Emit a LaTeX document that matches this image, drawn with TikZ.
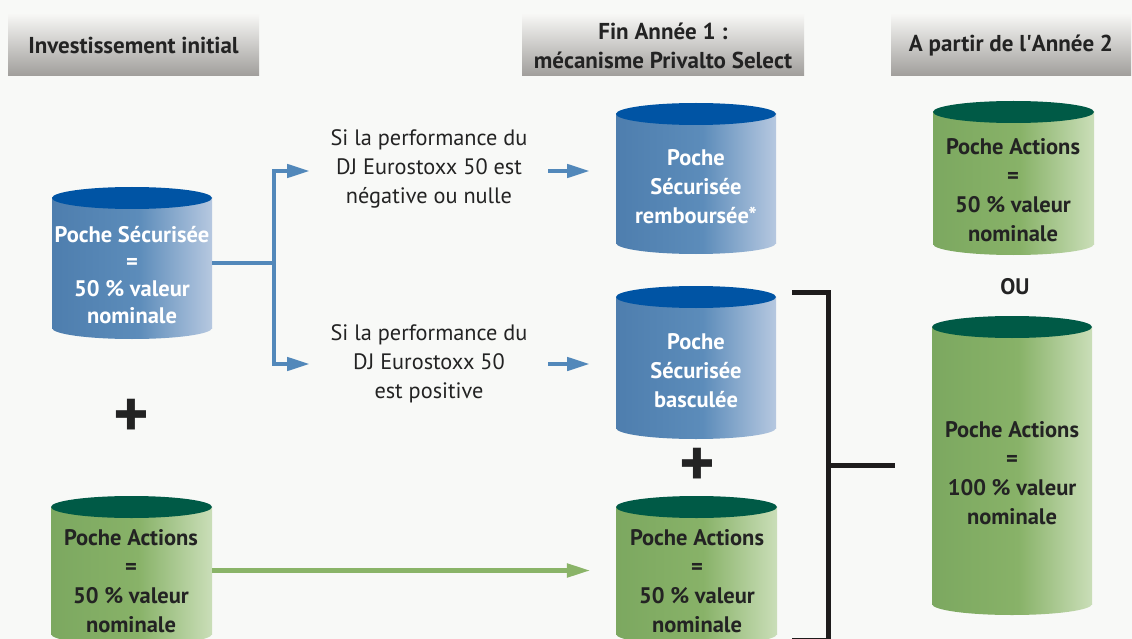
\documentclass[tikz,border=0pt]{standalone}
\usepackage{fontspec}
\setmainfont{PT Sans}
\usetikzlibrary{arrows.meta,calc}
\definecolor{bgc}{RGB}{248,249,247}
\definecolor{bL}{RGB}{78,126,174}
\definecolor{bM}{RGB}{92,140,186}
\definecolor{bR}{RGB}{182,200,224}
\definecolor{bTop}{RGB}{0,84,164}
\definecolor{gL}{RGB}{124,168,96}
\definecolor{gM}{RGB}{136,178,104}
\definecolor{gR}{RGB}{202,222,184}
\definecolor{gTop}{RGB}{0,90,70}
\definecolor{hTop}{RGB}{246,246,244}
\definecolor{hBot}{RGB}{160,158,155}
\definecolor{txt}{RGB}{35,35,35}
\definecolor{bArr}{RGB}{82,136,186}
\definecolor{gArr}{RGB}{138,180,104}
\definecolor{bkc}{RGB}{30,28,28}
\pgfdeclarehorizontalshading{blueshade}{100bp}{color(0bp)=(bL); color(25bp)=(bL); color(52bp)=(bM); color(75bp)=(bR); color(100bp)=(bR)}
\pgfdeclarehorizontalshading{greenshade}{100bp}{color(0bp)=(gL); color(25bp)=(gL); color(52bp)=(gM); color(75bp)=(gR); color(100bp)=(gR)}
\newcommand{\mycyl}[7]{%
  \shade[shading=#6] (#2,#4) rectangle (#3,#5);
  \shade[shading=#6] ({(#2+#3)/2},#5) ellipse[x radius={(#3-#2)/2}, y radius=11];
  \fill[#7] ({(#2+#3)/2},#4) ellipse[x radius={(#3-#2)/2}, y radius=11];
  \node[inner sep=0pt, minimum width={(#3-#2)*1pt}, minimum height={(#5-#4)*1pt}] (#1) at ({(#2+#3)/2},{(#4+#5)/2}) {};
}
\tikzset{
  hdr/.style={top color=hTop, bottom color=hBot, text=txt, inner sep=0pt, minimum height=61pt,
    font=\bfseries\fontsize{23}{29}\selectfont, align=center},
  cyltext/.style={font=\bfseries\fontsize{22.5}{29}\selectfont, align=center, inner sep=0pt},
  bluetext/.style={cyltext, text=white},
  greentext/.style={cyltext, text=txt},
  cond/.style={font=\fontsize{22.3}{29}\selectfont, align=center, text=txt, inner sep=0pt},
  bline/.style={draw=bArr, line width=4.5pt},
  barrow/.style={bline, -{Triangle[length=23pt,width=13pt]}},
  garrow/.style={draw=gArr, line width=5pt, -{Triangle[length=24pt,width=13pt]}},
  bk/.style={draw=bkc, line width=5pt},
  plus/.style={font=\bfseries\fontsize{68}{68}\selectfont, text=txt, inner sep=0pt},
}
\begin{document}
\begin{tikzpicture}[x=1pt,y=-1pt]
\clip (0,0) rectangle (1132,639);
\fill[bgc] (0,0) rectangle (1132,639);
% headers
\node[hdr, minimum width=251pt] (h1) at (133.5,45.5) {Investissement initial};
\node[hdr, minimum width=282pt] (h2) at (663,45.5) {Fin Année 1 :\\mécanisme Privalto Select};
\node[hdr, minimum width=240pt] (h3) at (1011,45.5) {A partir de l\textquotesingle Année 2};
% cylinders
\mycyl{c1}{52}{212}{198}{328}{blueshade}{bTop}
\mycyl{c2}{616}{776}{114}{243}{blueshade}{bTop}
\mycyl{c3}{616}{776}{297}{428}{blueshade}{bTop}
\mycyl{c4}{51}{212}{507}{634}{greenshade}{gTop}
\mycyl{c5}{616}{777}{507}{634}{greenshade}{gTop}
\mycyl{c6}{933}{1094}{112}{244}{greenshade}{gTop}
\mycyl{c7}{932}{1092}{327}{604}{greenshade}{gTop}
\node[bluetext, font=\bfseries\fontsize{22.5}{27}\selectfont] (c1t) at (132,275) {Poche Sécurisée\\=\\50 \% valeur\\nominale};
\node[bluetext] (c2t) at (696,186.5) {Poche\\Sécurisée\\remboursée*};
\node[bluetext] (c3t) at (696,371) {Poche\\Sécurisée\\basculée};
\node[greentext] (c4t) at (131,581) {Poche Actions\\=\\50 \% valeur\\nominale};
\node[greentext] (c5t) at (697,581) {Poche Actions\\=\\50 \% valeur\\nominale};
\node[greentext] (c6t) at (1013,190) {Poche Actions\\=\\50 \% valeur\\nominale};
\node[greentext] (c7t) at (1012,473) {Poche Actions\\=\\100 \% valeur\\nominale};
% conditions
\node[cond] (t1) at (429,168.5) {Si la performance du\\DJ Eurostoxx 50 est\\négative ou nulle};
\node[cond] (t2) at (429,363.5) {Si la performance du\\DJ Eurostoxx 50\\est positive};
% plus and OU
\node[plus] (p1) at (131,418) {+};
\node[plus] (p2) at (697,467) {+};
\node[greentext] (ou) at (1015,287) {OU};
% blue branch
\coordinate (j) at (274,263);
\coordinate (a1) at (310,171);
\coordinate (a2) at (310,364);
\draw[bline] (c1.east) -- (j);
\draw[barrow] (j) |- (a1);
\draw[barrow] (j) |- (a2);
\coordinate (s1) at (548,171);
\coordinate (e1) at (590,171);
\coordinate (s2) at (548,364);
\coordinate (e2) at (590,364);
\draw[barrow] (s1) -- (e1);
\draw[barrow] (s2) -- (e2);
% green arrow
\draw[garrow, shorten >=25pt] (c4.east) -- (c5.west);
% bracket
\coordinate (b1) at (792,292);
\coordinate (b3) at (828,640);
\coordinate (b4) at (792,640);
\coordinate (bm) at (828,465.5);
\draw[bk] (b1) -| (b3) -- (b4);
\draw[bk, shorten >=37pt] (bm) -- (c7.west);
\end{tikzpicture}
\end{document}
